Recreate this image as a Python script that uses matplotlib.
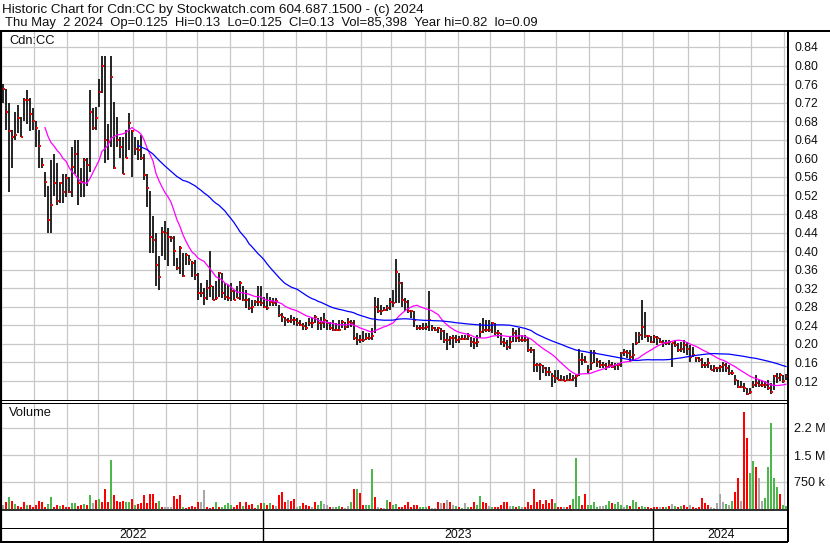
import numpy as np
import pandas as pd
import matplotlib
matplotlib.use("Agg")
import matplotlib.pyplot as plt

plt.rcParams['font.family'] = ['Liberation Sans', 'DejaVu Sans']

# ---------------- data (one bar = two trading days) ----------------
high = [
    0.76, 0.75, 0.72, 0.66, 0.70, 0.715, 0.69, 0.73, 0.747, 0.73,
    0.708, 0.68, 0.66, 0.60, 0.57, 0.54, 0.597, 0.61, 0.59, 0.55,
    0.567, 0.567, 0.56, 0.625, 0.64, 0.64, 0.58, 0.60, 0.60, 0.747,
    0.708, 0.71, 0.77, 0.82, 0.82, 0.675, 0.82, 0.722, 0.69, 0.647,
    0.647, 0.66, 0.697, 0.66, 0.647, 0.64, 0.65, 0.61, 0.567, 0.53,
    0.475, 0.44, 0.389, 0.453, 0.464, 0.45, 0.432, 0.432, 0.385, 0.41,
    0.396, 0.396, 0.392, 0.378, 0.381, 0.353, 0.331, 0.32, 0.338, 0.40,
    0.324, 0.335, 0.356, 0.353, 0.331, 0.327, 0.331, 0.317, 0.324, 0.335,
    0.324, 0.317, 0.299, 0.295, 0.295, 0.324, 0.324, 0.302, 0.31, 0.302,
    0.299, 0.299, 0.284, 0.266, 0.259, 0.256, 0.263, 0.259, 0.256, 0.252,
    0.245, 0.248, 0.256, 0.256, 0.263, 0.256, 0.259, 0.266, 0.252, 0.248,
    0.252, 0.244, 0.252, 0.252, 0.248, 0.255, 0.252, 0.252, 0.223, 0.219,
    0.227, 0.223, 0.223, 0.234, 0.302, 0.298, 0.284, 0.28, 0.284, 0.298,
    0.316, 0.384, 0.352, 0.334, 0.298, 0.295, 0.273, 0.27, 0.241, 0.241,
    0.244, 0.244, 0.313, 0.241, 0.237, 0.237, 0.234, 0.23, 0.223, 0.216,
    0.219, 0.219, 0.216, 0.219, 0.219, 0.223, 0.215, 0.212, 0.219, 0.244,
    0.255, 0.251, 0.251, 0.248, 0.244, 0.23, 0.223, 0.212, 0.208, 0.215,
    0.234, 0.23, 0.234, 0.219, 0.219, 0.212, 0.194, 0.19, 0.158, 0.158,
    0.155, 0.151, 0.151, 0.137, 0.144, 0.144, 0.133, 0.13, 0.133, 0.137,
    0.133, 0.133, 0.19, 0.18, 0.173, 0.155, 0.187, 0.187, 0.169, 0.165,
    0.162, 0.158, 0.165, 0.162, 0.158, 0.158, 0.183, 0.19, 0.187, 0.187,
    0.201, 0.226, 0.226, 0.295, 0.269, 0.219, 0.216, 0.219, 0.216, 0.212,
    0.208, 0.208, 0.208, 0.201, 0.208, 0.201, 0.205, 0.208, 0.205, 0.198,
    0.194, 0.172, 0.172, 0.169, 0.162, 0.169, 0.155, 0.155, 0.151, 0.155,
    0.162, 0.158, 0.155, 0.144, 0.133, 0.122, 0.119, 0.115, 0.104, 0.104,
    0.119, 0.133, 0.122, 0.119, 0.119, 0.122, 0.115, 0.133, 0.137, 0.137,
    0.133, 0.135,
]
low = [
    0.72, 0.66, 0.528, 0.58, 0.64, 0.655, 0.647, 0.68, 0.675, 0.658,
    0.66, 0.625, 0.58, 0.58, 0.517, 0.44, 0.44, 0.518, 0.50, 0.503,
    0.503, 0.517, 0.525, 0.517, 0.567, 0.50, 0.517, 0.517, 0.54, 0.57,
    0.66, 0.66, 0.71, 0.74, 0.59, 0.597, 0.625, 0.578, 0.625, 0.60,
    0.567, 0.60, 0.618, 0.56, 0.607, 0.597, 0.597, 0.553, 0.496, 0.396,
    0.396, 0.324, 0.317, 0.389, 0.381, 0.367, 0.42, 0.367, 0.36, 0.35,
    0.345, 0.37, 0.37, 0.345, 0.338, 0.295, 0.302, 0.284, 0.295, 0.302,
    0.295, 0.295, 0.302, 0.299, 0.295, 0.292, 0.292, 0.295, 0.299, 0.295,
    0.292, 0.277, 0.274, 0.266, 0.281, 0.281, 0.281, 0.277, 0.274, 0.281,
    0.281, 0.281, 0.259, 0.248, 0.238, 0.245, 0.245, 0.241, 0.238, 0.238,
    0.231, 0.231, 0.238, 0.234, 0.245, 0.231, 0.23, 0.234, 0.23, 0.23,
    0.227, 0.227, 0.227, 0.234, 0.23, 0.234, 0.237, 0.209, 0.198, 0.201,
    0.205, 0.209, 0.209, 0.209, 0.223, 0.266, 0.262, 0.27, 0.27, 0.273,
    0.28, 0.288, 0.288, 0.28, 0.27, 0.266, 0.255, 0.237, 0.23, 0.23,
    0.23, 0.23, 0.227, 0.227, 0.227, 0.223, 0.209, 0.201, 0.187, 0.198,
    0.191, 0.201, 0.201, 0.209, 0.209, 0.209, 0.194, 0.19, 0.194, 0.212,
    0.223, 0.226, 0.226, 0.223, 0.219, 0.212, 0.198, 0.194, 0.187, 0.19,
    0.205, 0.205, 0.205, 0.205, 0.205, 0.183, 0.18, 0.14, 0.14, 0.122,
    0.137, 0.13, 0.13, 0.108, 0.115, 0.122, 0.119, 0.119, 0.119, 0.119,
    0.119, 0.108, 0.13, 0.155, 0.158, 0.137, 0.144, 0.158, 0.151, 0.147,
    0.147, 0.144, 0.147, 0.147, 0.144, 0.144, 0.151, 0.173, 0.169, 0.162,
    0.165, 0.198, 0.201, 0.208, 0.212, 0.205, 0.201, 0.201, 0.198, 0.201,
    0.194, 0.198, 0.198, 0.151, 0.194, 0.183, 0.183, 0.18, 0.176, 0.162,
    0.172, 0.162, 0.162, 0.147, 0.147, 0.147, 0.144, 0.14, 0.14, 0.14,
    0.14, 0.14, 0.133, 0.133, 0.112, 0.104, 0.104, 0.097, 0.09, 0.093,
    0.104, 0.108, 0.108, 0.108, 0.104, 0.101, 0.093, 0.101, 0.115, 0.119,
    0.115, 0.122,
]
close = [
    0.75, 0.70, 0.658, 0.647, 0.65, 0.688, 0.647, 0.726, 0.726, 0.695,
    0.68, 0.665, 0.627, 0.585, 0.55, 0.467, 0.50, 0.547, 0.507, 0.546,
    0.528, 0.557, 0.528, 0.582, 0.61, 0.546, 0.55, 0.596, 0.585, 0.70,
    0.665, 0.688, 0.744, 0.80, 0.64, 0.636, 0.776, 0.58, 0.64, 0.625,
    0.567, 0.60, 0.677, 0.658, 0.62, 0.618, 0.60, 0.565, 0.535, 0.43,
    0.424, 0.37, 0.345, 0.442, 0.44, 0.43, 0.428, 0.40, 0.363, 0.406,
    0.347, 0.392, 0.38, 0.374, 0.349, 0.31, 0.31, 0.299, 0.32, 0.324,
    0.295, 0.299, 0.352, 0.31, 0.302, 0.30, 0.313, 0.295, 0.299, 0.331,
    0.295, 0.295, 0.277, 0.28, 0.29, 0.29, 0.288, 0.28, 0.277, 0.29,
    0.288, 0.292, 0.263, 0.259, 0.252, 0.25, 0.252, 0.252, 0.245, 0.241,
    0.238, 0.234, 0.245, 0.245, 0.259, 0.245, 0.244, 0.252, 0.244, 0.234,
    0.23, 0.229, 0.23, 0.248, 0.237, 0.248, 0.246, 0.212, 0.209, 0.209,
    0.209, 0.212, 0.212, 0.216, 0.28, 0.27, 0.27, 0.273, 0.277, 0.291,
    0.288, 0.356, 0.331, 0.295, 0.291, 0.27, 0.27, 0.252, 0.234, 0.234,
    0.234, 0.237, 0.252, 0.234, 0.23, 0.234, 0.227, 0.209, 0.209, 0.212,
    0.212, 0.209, 0.21, 0.21, 0.21, 0.216, 0.205, 0.201, 0.205, 0.226,
    0.23, 0.23, 0.23, 0.244, 0.223, 0.223, 0.205, 0.201, 0.194, 0.205,
    0.223, 0.212, 0.208, 0.208, 0.208, 0.187, 0.187, 0.155, 0.155, 0.155,
    0.147, 0.14, 0.14, 0.13, 0.126, 0.122, 0.122, 0.119, 0.122, 0.122,
    0.126, 0.13, 0.165, 0.165, 0.162, 0.144, 0.158, 0.18, 0.162, 0.155,
    0.155, 0.151, 0.155, 0.151, 0.155, 0.155, 0.18, 0.183, 0.18, 0.172,
    0.176, 0.201, 0.219, 0.237, 0.216, 0.216, 0.205, 0.215, 0.212, 0.205,
    0.201, 0.201, 0.205, 0.201, 0.198, 0.187, 0.19, 0.198, 0.19, 0.172,
    0.176, 0.169, 0.165, 0.155, 0.155, 0.158, 0.144, 0.147, 0.147, 0.151,
    0.155, 0.147, 0.137, 0.137, 0.122, 0.108, 0.108, 0.104, 0.093, 0.097,
    0.112, 0.115, 0.112, 0.112, 0.112, 0.104, 0.097, 0.13, 0.126, 0.133,
    0.119, 0.13,
]
volume_k = [
    110, 204, 343, 222, 130, 83, 60, 185, 111, 111,
    56, 111, 222, 204, 65, 130, 343, 65, 111, 93,
    111, 65, 56, 176, 170, 93, 111, 139, 111, 389,
    157, 250, 278, 185, 556, 204, 1360, 389, 222, 204,
    222, 185, 185, 278, 111, 130, 157, 389, 157, 407,
    407, 157, 222, 65, 50, 56, 56, 361, 278, 389,
    65, 37, 56, 93, 65, 204, 204, 528, 65, 37,
    46, 204, 65, 65, 111, 157, 111, 65, 111, 204,
    83, 185, 111, 130, 40, 111, 157, 157, 111, 157,
    111, 93, 389, 481, 185, 250, 222, 278, 65, 83,
    157, 111, 74, 56, 185, 111, 222, 130, 111, 65,
    46, 65, 93, 65, 37, 83, 204, 556, 546, 435,
    111, 111, 111, 1110, 343, 65, 19, 37, 250, 204,
    111, 130, 65, 56, 111, 185, 65, 111, 111, 56,
    56, 56, 83, 37, 37, 204, 157, 157, 250, 204,
    111, 83, 65, 37, 157, 65, 56, 204, 111, 370,
    204, 157, 83, 65, 65, 65, 111, 204, 204, 93,
    83, 65, 83, 65, 65, 204, 111, 556, 204, 250,
    130, 250, 157, 278, 157, 65, 56, 56, 65, 111,
    278, 1410, 370, 111, 426, 111, 111, 204, 65, 83,
    83, 111, 222, 157, 148, 185, 111, 65, 111, 83,
    250, 204, 65, 83, 65, 56, 37, 56, 56, 46,
    65, 65, 83, 130, 74, 65, 93, 111, 65, 111,
    65, 37, 56, 315, 157, 111, 56, 37, 157, 426,
    204, 130, 111, 222, 463, 852, 222, 2700, 1963, 990,
    1333, 1176, 852, 222, 296, 1176, 2380, 852, 620, 417,
    111, 85,
]
# u = close up (green), d = down (red), n = unchanged (grey)
vol_dir = "".join([
    "ndududddud", "ddddduuddu", "ddduuddudu", "nduddduddd", "duududdddd",
    "ddudnnnddd", "udddddnndd", "duduuuuddd", "uddddududu", "dndddnddnu",
    "dddnduunnd", "nuudnnudud", "duuudndnud", "uudddddddu", "uudnndndnd",
    "nudunudduu", "ddnudddddn", "udundddddd", "dddduddndd", "uuudduuuun",
    "nuuduuunud", "uuduuddddn", "dudnududdn", "ddddddnnnn", "nunuddnddu",
    "udnnuuuuud", "uu",
])
price_ticks = [0.12, 0.16, 0.20, 0.24, 0.28, 0.32, 0.36, 0.40, 0.44, 0.48,
               0.52, 0.56, 0.60, 0.64, 0.68, 0.72, 0.76, 0.80, 0.84]
vol_ticks = [750e3, 1.5e6, 2.25e6]
vol_tick_labels = ["750 k", "1.5 M", "2.2 M"]
year_labels = ["2022", "2023", "2024"]
header1 = "Historic Chart for Cdn:CC by Stockwatch.com 604.687.1500 - (c) 2024"
header2 = ("Thu May  2 2024  Op=0.125  Hi=0.13  Lo=0.125  Cl=0.13  "
           "Vol=85,398  Year hi=0.82  lo=0.09")
symbol_label = "Cdn:CC"
volume_label = "Volume"
ma_short, ma_long = 15, 46   # in two-day bars

# ---------------- layout ----------------
W, H = 830, 543
FS = 8.7
GRID = '#C8C8C8'
TXT = '#101010'
fig = plt.figure(figsize=(W / 100, H / 100), dpi=100)
fig.patch.set_facecolor('white')


def box(x0, y0, x1, y1):
    return [x0 / W, 1 - y1 / H, (x1 - x0) / W, (y1 - y0) / H]


n = len(close)
idx = np.arange(n)
weekdays = pd.bdate_range('2022-05-02', '2024-05-02')
month_first = [i for i in range(1, len(weekdays))
               if weekdays[i].month != weekdays[i - 1].month]
month_pos = [(i - 1.5) / 2 for i in month_first]
year_pos = [(i - 1.5) / 2 for i in month_first if weekdays[i].month == 1]
xlim = (-1 / 3, n - 1 / 3)

# ---------------- price panel ----------------
ax = fig.add_axes(box(2, 31, 788, 400))
ax.set_xlim(*xlim)
ax.set_ylim(0.12 - 19 / 464, 0.84 + 16 / 464)
ax.hlines(price_ticks, xlim[0], xlim[1], color=GRID, lw=0.9, zorder=0)
ax.vlines(month_pos, 0, 1, transform=ax.get_xaxis_transform(),
          color=GRID, lw=0.9, zorder=0)
ax.vlines(idx, low, high, color='black', lw=1.2, zorder=2)
ax.plot(idx + 0.45, close, 's', color='#FF0000', ms=2.0, mew=0, zorder=3)
cs = pd.Series(close)
ax.plot(idx, cs.rolling(ma_short).mean(), color='#FF00FF', lw=0.9, zorder=4)
ax.plot(idx, cs.rolling(ma_long).mean(), color='#0000FF', lw=0.9, zorder=4)
ax.yaxis.tick_right()
ax.set_yticks(price_ticks)
ax.set_yticklabels([f"{t:.2f}" for t in price_ticks])
ax.tick_params(axis='y', length=0, pad=5.0, labelsize=FS, labelcolor=TXT)
ax.set_xticks([])
for s in ax.spines.values():
    s.set_visible(False)
ax.text(7 / 786, 1 - 10.5 / 369, symbol_label, transform=ax.transAxes,
        fontsize=9.3, va='center', ha='left', color=TXT)

# ---------------- volume panel ----------------
axv = fig.add_axes(box(2, 402.5, 788, 509))
axv.set_xlim(*xlim)
axv.set_ylim(0, 106.5 / 27 * 750e3)
axv.hlines(vol_ticks, xlim[0], xlim[1], color=GRID, lw=0.9, zorder=0)
axv.vlines(month_pos, 0, 1, transform=axv.get_xaxis_transform(),
           color=GRID, lw=0.9, zorder=0)
cmap = {'u': '#4CB84C', 'd': '#FF0000', 'n': '#A8A8A8'}
axv.bar(idx, np.array(volume_k) * 1000, width=0.72,
        color=[cmap[c] for c in vol_dir], linewidth=0, zorder=2)
axv.yaxis.tick_right()
axv.set_yticks(vol_ticks)
axv.set_yticklabels(vol_tick_labels)
axv.tick_params(axis='y', length=0, pad=4.5, labelsize=9.1, labelcolor=TXT)
axv.set_xticks([])
for s in axv.spines.values():
    s.set_visible(False)
axv.text(7 / 786, 1 - 10.5 / 106.5, volume_label, transform=axv.transAxes,
         fontsize=9.3, va='center', ha='left', color=TXT)

# ---------------- date axis ----------------
axd = fig.add_axes(box(2, 509.5, 788, 541.5))
axd.set_xlim(*xlim)
axd.set_ylim(0, 1)
axd.axis('off')
axd.vlines(year_pos, 0, 1, color='black', lw=1.0)
edges = [xlim[0]] + year_pos + [xlim[1]]
for lab, a, b in zip(year_labels, edges[:-1], edges[1:]):
    axd.text((a + b) / 2, 7 / 32, lab, ha='center', va='center',
             fontsize=8.9, color=TXT)

# ---------------- frame & header (pixel overlay) ----------------
ov = fig.add_axes([0, 0, 1, 1], facecolor='none')
ov.set_xlim(0, W)
ov.set_ylim(H, 0)
ov.axis('off')
px = 0.72
frame = [
    ((0, W), (31, 31), 2.0),
    ((1, 1), (31, 542), 2.2),
    ((788, 788), (31, 542), 2.0),
    ((0, 788), (400, 400), 1.0),
    ((0, 788), (402.5, 402.5), 1.0),
    ((0, 788), (509.5, 509.5), 1.6),
    ((0, 788), (527.5, 527.5), 1.0),
    ((0, 788), (541.5, 541.5), 2.0),
]
for xs, ys, w in frame:
    ov.plot(xs, ys, color='black', lw=w * px, solid_capstyle='butt')
ov.text(2, 9.5, header1, fontsize=9.7, va='center', ha='left', color=TXT)
ov.text(5, 23, header2, fontsize=9.4, va='center', ha='left', color=TXT)

fig.savefig('out.png', dpi=100)
